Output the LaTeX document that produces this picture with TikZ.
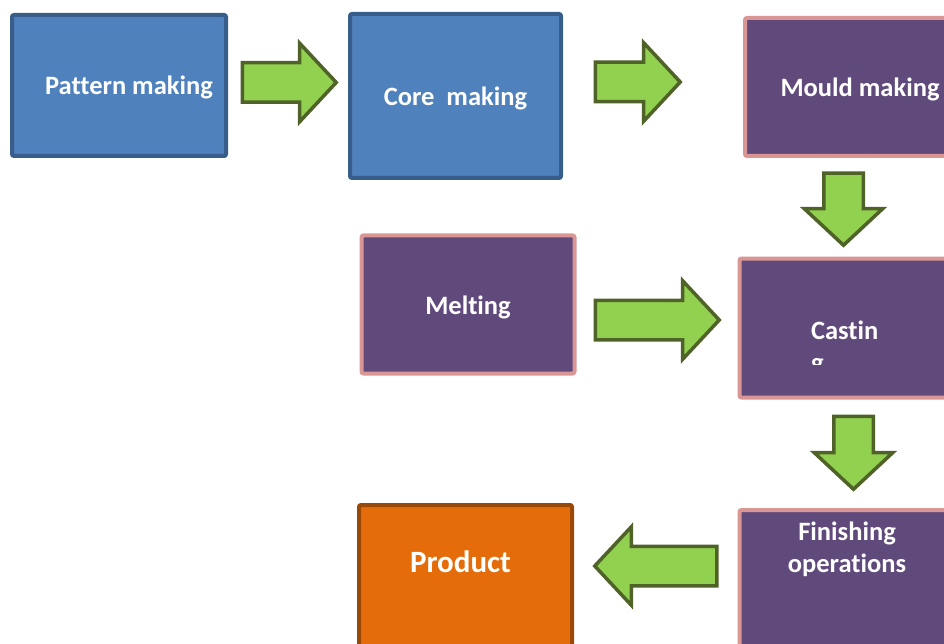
\documentclass[tikz,border=0pt]{standalone}
\usepackage{fontspec}
\setmainfont{Carlito}[Ligatures=NoCommon]
\usetikzlibrary{shapes.arrows}

\definecolor{bluefill}{HTML}{4F81BD}
\definecolor{blueline}{HTML}{385D8A}
\definecolor{violetfill}{HTML}{604A7B}
\definecolor{pinkline}{HTML}{D99694}
\definecolor{orangefill}{HTML}{E46C0A}
\definecolor{orangeline}{HTML}{984807}
\definecolor{greenfill}{HTML}{92D050}
\definecolor{greenline}{HTML}{4F6228}

\tikzset{
  stage/.style={rectangle, rounded corners=2pt, line width=4pt, text=white,
    font=\fontsize{26.5}{32}\selectfont\bfseries, inner sep=0pt},
  bluestage/.style={stage, fill=bluefill, draw=blueline, text height=24pt, text depth=5pt},
  violetstage/.style={stage, fill=violetfill, draw=pinkline, text height=24pt, text depth=5pt},
  flow/.style={single arrow, draw=greenline, fill=greenfill, line width=3.5pt,
    inner xsep=0pt, inner ysep=18pt, text height=0pt, text depth=0pt,
    minimum width=75pt, single arrow head extend=19.5pt,
    single arrow tip angle=94, anchor=tail},
}

\begin{document}
\begin{tikzpicture}[x=1pt,y=-1pt]
  \clip (0,0) rectangle (944,644);

  % first row
  \node[bluestage, minimum width=214pt, minimum height=141pt] (pattern) at (119,85.5) {\hspace*{20pt}Pattern making};
  \node[bluestage, minimum width=211pt, minimum height=164pt] (core) at (455.5,96) {Core\ \ making};
  \node[violetstage, minimum width=230pt, minimum height=138pt] (mould) at (860,87) {Mould making};

  % second row
  \node[violetstage, minimum width=213pt, minimum height=138pt] (melting) at (468,304.5) {Melting};
  \node[violetstage, minimum width=230pt, minimum height=139pt] (casting) at (854.5,328) {};
  \begin{scope}
    \clip (casting.north west) rectangle (944,364);
    \node[stage, anchor=base west, align=left] (casttext) at (809,371) {Castin\\g};
  \end{scope}

  % third row
  \node[violetstage, minimum width=230pt, minimum height=140pt, anchor=north west] (finishing) at (737.5,508) {};
  \node[stage, anchor=base, align=center] (fintext) at (847,572) {Finishing\\operations};
  \node[stage, fill=orangefill, draw=orangeline, minimum width=213pt, minimum height=142pt,
    font=\fontsize{31}{37}\selectfont\bfseries, text height=22pt, text depth=30pt] (product) at (465.5,576) {\hspace*{-10pt}Product};

  % block arrows, placed by their tails
  \node[flow, minimum height=94pt] (a1) at (240.5,82.5) {};
  \node[flow, minimum height=85pt] (a2) at (593.5,82) {};
  \node[flow, minimum height=72pt, rotate=-90] (a3) at (843.5,171.5) {};
  \node[flow, minimum height=124pt] (a4) at (593.5,320) {};
  \node[flow, minimum height=73pt, rotate=-90] (a5) at (853.5,414.5) {};
  \node[flow, minimum height=122pt, rotate=180] (a6) at (718.5,566) {};
\end{tikzpicture}
\end{document}
